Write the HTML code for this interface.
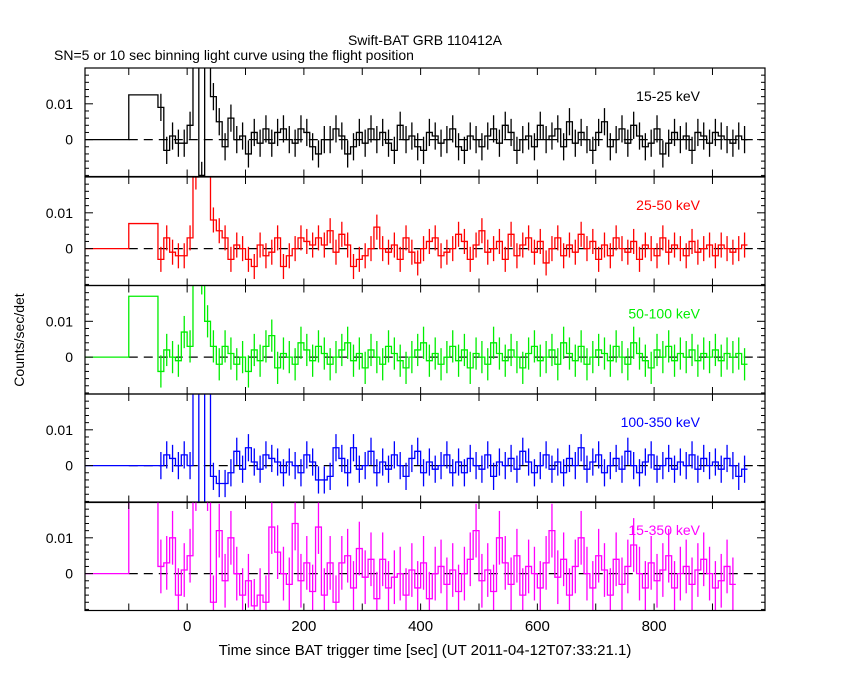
<!DOCTYPE html>
<html><head><meta charset="utf-8">
<style>
html,body{margin:0;padding:0;background:#fff;}
svg{display:block;font-family:"Liberation Sans",sans-serif;}
</style></head>
<body>
<svg id="chart" width="850" height="680" viewBox="0 0 850 680">
<text x="425" y="45" text-anchor="middle" font-size="14">Swift-BAT GRB 110412A</text>
<text x="54" y="60" font-size="14">SN=5 or 10 sec binning light curve using the flight position</text>
<text x="24" y="340" font-size="14" text-anchor="middle" transform="rotate(-90 24 340)">Counts/sec/det</text>
<text x="425" y="655" font-size="15" text-anchor="middle">Time since BAT trigger time [sec] (UT 2011-04-12T07:33:21.1)</text>
</svg>
<script>
const bands = ["15-25 keV","25-50 keV","50-100 keV","100-350 keV","15-350 keV"];
const colors = ["#000000","#ff0000","#00ee00","#0000ff","#ff00ff"];
const preLevel = [12.5, 7, 17, 0, 25];
const errSize = [3.8, 3.5, 4.5, 3.8, 7.5];
const xTicks = [0,200,400,600,800];
const yTicks = [0,0.01];
const s1 = [9,-3,1,-1,-1,4,30,-10,30,12,5,-2,6,0,1,-4,2,-1,3,-1,2,3,0,-1,3,2,-2,-4,0,0,3,1,-4,-2,2,-1,3,0,2,-1,-3,4,0,1,-2,-3,2,1,-1,0,3,-2,-3,1,0,-2,1,3,-1,4,2,-3,0,1,-2,4,0,1,3,-2,5,-1,2,0,-3,2,5,-2,0,3,-1,4,1,-2,-1,3,-4,-1,2,0,1,-3,2,1,-1,2,1,0,-1,1,0];
const s2 = [-3,3,-1,-2,-2,3,20,30,30,8,5,3,-3,1,0,-3,-5,1,-2,-1,3,-5,-2,0,3,2,1,3,1,5,-1,4,1,-5,-3,-2,0,6,0,-1,1,-3,3,-1,-4,0,2,3,-2,-1,0,4,2,-3,1,5,-1,0,2,-3,4,-2,1,3,-1,2,-4,0,3,-2,1,-1,4,0,2,-3,1,-2,3,0,-1,2,-3,1,0,-2,3,-1,1,0,-2,2,-1,0,1,-2,1,0,-1,0,1];
const s3 = [-4,2,0,-1,7,3,25,22,10,3,-2,3,1,-2,0,-4,2,-1,3,6,-3,1,0,-2,4,2,-1,3,1,-2,0,2,4,-1,1,-3,2,0,-2,3,1,-1,-3,0,2,4,-1,1,-2,0,3,-1,2,-3,1,0,-2,4,1,-1,2,0,-3,1,3,-1,0,2,-2,4,1,-1,3,-2,0,2,1,-1,3,0,-2,4,1,-1,-3,2,0,3,-1,1,0,2,-1,1,0,2,-1,1,0,1,-2];
const s4 = [0,3,2,0,3,0,30,-20,25,-3,-5,-5,-2,4,-1,5,1,-1,3,2,1,-2,1,0,-2,3,1,-4,-4,-3,5,2,-2,5,-1,0,4,-2,1,-1,3,0,-3,2,4,-2,1,-1,0,3,-2,1,-2,2,0,-1,3,-3,1,0,2,-1,4,1,-2,0,3,-1,1,-2,2,0,5,-1,1,3,-2,0,2,-1,4,0,-2,1,3,-1,0,2,-1,1,0,3,-1,2,0,1,-1,2,0,-3,-1];
const s5 = [2,3,10,-6,1,5,25,30,25,-8,12,-2,10,0,-6,-2,-9,-6,-8,13,6,0,-3,14,-2,3,-5,13,-6,3,-8,3,5,-4,7,-1,4,-7,4,-4,-1,0,-6,1,-4,3,-7,0,2,-3,1,-5,0,4,12,-2,1,-5,10,3,-3,5,-6,2,0,-4,3,12,-1,4,-6,2,10,0,-4,5,1,-6,4,-3,2,8,0,-4,3,-2,1,5,-4,0,2,-3,1,4,0,-4,-2,2,-3];
const series = [s1,s2,s3,s4,s5];
const tStart = -50, binW = 10;

const svg = document.getElementById('chart');
const NS = 'http://www.w3.org/2000/svg';
const X0 = 85, X1 = 765;
const tMin = -175, tMax = 990;
const xScale = t => X0 + (t - tMin) / (tMax - tMin) * (X1 - X0);
const panelTop = [68,177,285.5,394,502], panelH = 108.5;
const yMin = -0.0103, yMax = 0.02;
function yScale(p, v){ return panelTop[p] + (yMax - v) / (yMax - yMin) * panelH; }
function mk(tag, attrs){ const e = document.createElementNS(NS, tag); for (const k in attrs) e.setAttribute(k, attrs[k]); return e; }

for (let p = 0; p < 5; p++){
  const g = mk('g', {});
  
  
  svg.appendChild(g);
  const top = panelTop[p], bot = top + panelH;
  const cp = mk('clipPath', {id: 'c' + p});
  cp.appendChild(mk('rect', {x: X0, y: top, width: X1 - X0, height: panelH}));
  g.appendChild(cp);
  const inner = mk('g', {'clip-path': 'url(#c' + p + ')'});
  g.appendChild(inner);
  const col = colors[p];
  const y0 = yScale(p, 0);
  const dz = mk('line', {x1: xScale(-100), x2: X1, y1: y0, y2: y0, stroke: '#000', 'stroke-dasharray': '9,6', 'stroke-width': 1.2});
  
  
  inner.appendChild(dz);
  const vals = series[p];
  let d = 'M' + X0 + ',' + y0 + ' L' + xScale(-100) + ',' + y0;
  let py = yScale(p, preLevel[p] / 1000);
  d += ' L' + xScale(-100) + ',' + py + ' L' + xScale(tStart) + ',' + py;
  for (let i = 0; i < vals.length; i++){
    const yy = yScale(p, vals[i] / 1000);
    const xa = xScale(tStart + i * binW), xb = xScale(tStart + (i + 1) * binW);
    d += ' L' + xa + ',' + yy + ' L' + xb + ',' + yy;
  }
  const path = mk('path', {d: d, fill: 'none', stroke: col, 'stroke-width': 1.3});
  
  
  inner.appendChild(path);
  for (let i = 0; i < vals.length; i++){
    const xm = xScale(tStart + (i + 0.5) * binW);
    const v = vals[i] / 1000, e = errSize[p] / 1000;
    const eb = mk('line', {x1: xm, x2: xm, y1: yScale(p, v + e), y2: yScale(p, v - e), stroke: col, 'stroke-width': 1.3});
    
    
    inner.appendChild(eb);
  }
  const fr = mk('rect', {x: X0, y: top, width: X1 - X0, height: panelH, fill: 'none', stroke: '#000', 'stroke-width': 1.2});
  
  
  g.appendChild(fr);
  for (let t = -100; t <= 900; t += 100){
    const x = xScale(t);
    g.appendChild(mk('line', {x1: x, x2: x, y1: top, y2: top + 7, stroke: '#000'}));
    g.appendChild(mk('line', {x1: x, x2: x, y1: bot, y2: bot - 7, stroke: '#000'}));
  }
  for (let v = -0.01; v <= 0.02001; v += 0.002){
    const y = yScale(p, v);
    if (y < top || y > bot) continue;
    const major = Math.abs(v) < 1e-9 || Math.abs(v - 0.01) < 1e-9 || Math.abs(v - 0.02) < 1e-9;
    const L = major ? 8 : 4;
    g.appendChild(mk('line', {x1: X0, x2: X0 + L, y1: y, y2: y, stroke: '#000'}));
    g.appendChild(mk('line', {x1: X1, x2: X1 - L, y1: y, y2: y, stroke: '#000'}));
  }
  yTicks.forEach(v => {
    const tx = mk('text', {x: X0 - 12, y: yScale(p, v) + 5, 'text-anchor': 'end', 'font-size': 14});
    tx.textContent = v === 0 ? '0' : String(v);
    
    
    g.appendChild(tx);
  });
  const bl = mk('text', {x: 700, y: top + 33, 'text-anchor': 'end', 'font-size': 14, fill: col});
  bl.textContent = bands[p];
  
  
  g.appendChild(bl);
}
xTicks.forEach(t => {
  const tx = mk('text', {x: xScale(t), y: 631, 'text-anchor': 'middle', 'font-size': 15});
  tx.textContent = String(t);
  
  
  svg.appendChild(tx);
});
</script>
</body></html>
